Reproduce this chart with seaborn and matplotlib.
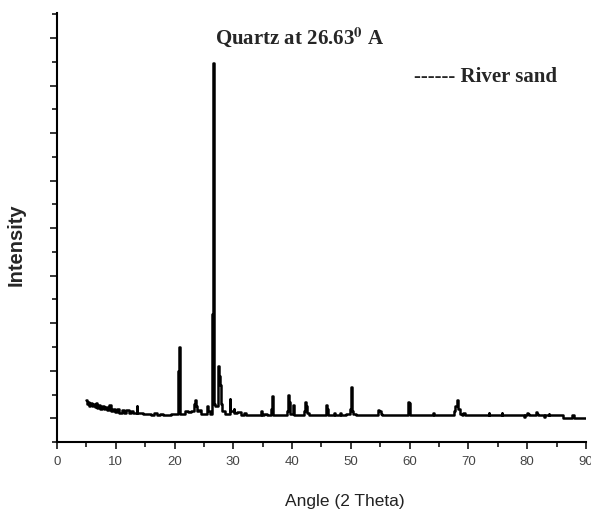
"""XRD pattern of river sand"""

import matplotlib.pyplot as plt
import seaborn as sns
import pandas as pd
from matplotlib.ticker import MultipleLocator

# 2-theta positions (deg) and intensity
two_theta = [
    5.0, 5.2, 5.4, 5.6, 5.8, 6.0, 6.3, 6.5, 6.7, 6.9, 7.2, 7.5, 7.8, 8.1, 8.4,
    8.7, 9.0, 9.3, 9.6, 10.0, 10.4, 10.8, 11.2, 11.6, 12.0, 12.4, 12.8, 13.2,
    13.5, 13.6, 13.7, 14.3, 15.0, 15.6, 16.3, 16.8, 17.2, 17.8, 18.2, 19.0,
    19.8, 20.5, 20.65, 20.7, 20.85, 20.95, 21.5, 22.0, 22.5, 23.0, 23.3, 23.4,
    23.6, 23.8, 24.0, 24.3, 24.7, 25.2, 25.5, 25.6, 25.75, 26.2, 26.35, 26.45,
    26.6, 26.7, 26.8, 27.1, 27.3, 27.4, 27.6, 27.8, 27.95, 28.3, 28.8, 29.2,
    29.35, 29.45, 29.55, 30.0, 30.1, 30.3, 31.0, 31.5, 32.0, 32.4, 34.6, 34.8,
    35.0, 35.6, 35.9, 36.45, 36.55, 36.65, 36.75, 39.1, 39.2, 39.35, 39.5,
    39.65, 40.15, 40.25, 40.4, 41.9, 42.05, 42.25, 42.45, 42.65, 43.0, 45.65,
    45.8, 46.0, 46.2, 47.1, 47.2, 47.5, 48.1, 48.2, 48.5, 49.8, 49.95, 50.1,
    50.25, 50.6, 51.0, 54.6, 54.7, 55.0, 55.2, 55.5, 59.7, 59.8, 60.0, 60.15,
    63.95, 64.05, 64.15, 67.4, 67.6, 67.9, 68.15, 68.4, 68.7, 69.0, 69.3,
    69.45, 73.4, 73.5, 73.65, 75.6, 75.7, 75.85, 79.4, 79.5, 79.65, 79.9,
    80.0, 80.3, 80.5, 81.4, 81.5, 81.8, 82.0, 82.9, 83.0, 83.15, 83.6, 83.7,
    83.85, 86.0, 86.1, 87.5, 87.7, 88.0, 88.1, 90.0,
]
intensity = [
    380, 300, 350, 260, 320, 250, 300, 230, 330, 220, 270, 200, 260, 190, 240,
    180, 270, 160, 200, 140, 190, 120, 170, 110, 180, 120, 150, 110,
    110, 260, 110, 120, 90, 80, 70, 110, 70, 100, 70, 70,
    80, 80, 80, 1000, 1500, 100, 90, 160, 130, 150, 150, 300,
    380, 250, 150, 180, 90, 80, 80, 250, 150, 100, 100, 2200,
    7470, 2000, 300, 250, 250, 1100, 900, 700, 300, 150, 80, 90,
    90, 400, 150, 150, 200, 110, 130, 60, 110, 60, 60, 150,
    60, 100, 60, 60, 200, 460, 70, 60, 150, 480, 350,
    100, 100, 280, 70, 70, 150, 350, 250, 120, 70, 60,
    280, 200, 60, 60, 110, 60, 60, 110, 60, 80, 200, 650,
    150, 100, 60, 60, 170, 150, 80, 60, 60, 350, 320, 60,
    60, 120, 60, 60, 150, 250, 380, 200, 100, 60, 120,
    60, 60, 110, 60, 60, 110, 60, 60, 30, 60, 60,
    120, 90, 60, 60, 130, 80, 60, 60, 20, 60, 60, 90,
    60, 60, 10, 10, 60, 60, 10, 10,
]

df = pd.DataFrame({"two_theta": two_theta, "intensity": intensity})

sns.set_style("ticks")
plt.rcParams["font.family"] = ["Liberation Sans", "DejaVu Sans"]
plt.rcParams["mathtext.fontset"] = "stix"

fig = plt.figure(figsize=(5.91, 5.15), dpi=100)
ax = fig.add_axes([0.0964, 0.1417, 0.895, 0.8331])

sns.lineplot(data=df, x="two_theta", y="intensity", ax=ax, color="black",
             lw=1.8, drawstyle="steps-mid", sort=False)

ax.set_xlim(0, 90)
ax.set_ylim(-500, 8530)
ax.xaxis.set_major_locator(MultipleLocator(10))
ax.xaxis.set_minor_locator(MultipleLocator(5))
ax.yaxis.set_major_locator(MultipleLocator(1000))
ax.yaxis.set_minor_locator(MultipleLocator(500))
ax.set_yticklabels([])
ax.tick_params(which="major", length=5, width=1.3, direction="out",
               labelsize=9.5, labelcolor="#444444", pad=5)
ax.tick_params(which="minor", length=3.5, width=1.3, direction="out")
for side in ["top", "right"]:
    ax.spines[side].set_visible(False)
for side in ["left", "bottom"]:
    ax.spines[side].set_linewidth(1.5)
    ax.spines[side].set_color("black")

ax.set_xlabel("Angle (2 Theta)", fontsize=12.5, color="#222222")
ax.xaxis.set_label_coords(0.545, -0.121)
ax.set_ylabel("Intensity", fontsize=14.5, fontweight="bold")
ax.yaxis.set_label_coords(-0.06, 0.46)

serif = ["Liberation Serif", "DejaVu Serif"]
ax.text(26.9, 8020, r"Quartz at 26.63$^{\mathbf{0}}$ A", family=serif,
        fontsize=15, fontweight="bold", va="center", ha="left")
ax.text(60.8, 7180, "------ River sand", family=serif, fontsize=15,
        fontweight="bold", va="center", ha="left")

plt.savefig("out.png", dpi=100)
plt.close()
